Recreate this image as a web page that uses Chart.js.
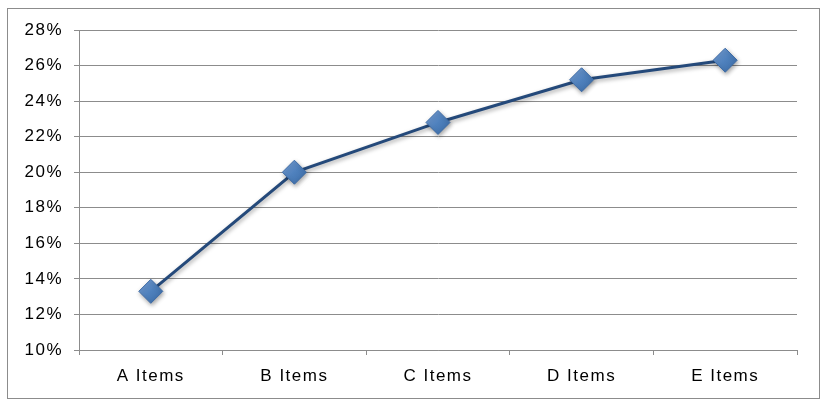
<!DOCTYPE html>
<html>
<head>
<meta charset="utf-8">
<script src="https://cdn.jsdelivr.net/npm/chart.js@4/dist/chart.umd.min.js"></script>
<style>
html,body{margin:0;padding:0;background:#fff;}
#wrap{position:relative;width:829px;height:408px;}
</style>
</head>
<body>
<div id="wrap"><canvas id="c" width="829" height="408"></canvas></div>
<script>
const categories = ["A Items", "B Items", "C Items", "D Items", "E Items"];
const values = [13.3, 20.0, 22.8, 25.2, 26.3];
const yMin = 10;
const yMax = 28;
const yStep = 2;

const borderPlugin = {
  id: 'outerBorder',
  beforeDraw(chart) {
    const ctx = chart.ctx;
    ctx.save();
    ctx.fillStyle = '#ffffff';
    ctx.fillRect(0, 0, chart.width, chart.height);
    ctx.strokeStyle = '#8c8c8c';
    ctx.lineWidth = 1;
    ctx.strokeRect(7.5, 8.5, 812, 390);
    ctx.restore();
  }
};

const spacingPlugin = {
  id: 'letterSpacing',
  beforeInit(chart) { chart.ctx.letterSpacing = '1.5px'; },
  beforeLayout(chart) { chart.ctx.letterSpacing = '1.5px'; },
  beforeDraw(chart) { chart.ctx.letterSpacing = '1.5px'; }
};

const shadowPlugin = {
  id: 'markerShadow',
  beforeDatasetDraw(chart) {
    const ctx = chart.ctx;
    ctx.save();
    ctx.shadowColor = 'rgba(0,0,0,0.35)';
    ctx.shadowBlur = 4;
    ctx.shadowOffsetX = 1;
    ctx.shadowOffsetY = 2;
  },
  afterDatasetDraw(chart) {
    chart.ctx.restore();
  }
};

Chart.defaults.font.family = "'Liberation Sans', Arial, sans-serif";
Chart.defaults.font.size = 17;
Chart.defaults.color = '#000000';

const ctx = document.getElementById('c').getContext('2d');

function markerFill(context) {
  const chart = context.chart;
  const el = context.element;
  if (!el || el.x === undefined) return '#4F81BD';
  const g = chart.ctx.createLinearGradient(el.x - 12, el.y - 12, el.x + 12, el.y + 12);
  g.addColorStop(0, '#7ea6dc');
  g.addColorStop(0.5, '#4f81bd');
  g.addColorStop(1, '#3a6aa5');
  return g;
}

new Chart(ctx, {
  type: 'line',
  data: {
    labels: categories,
    datasets: [{
      data: values,
      borderColor: '#24497a',
      borderWidth: 3,
      pointStyle: 'rectRot',
      pointRadius: 12,
      pointHoverRadius: 12,
      pointBackgroundColor: markerFill,
      pointBorderColor: '#3d6ba6',
      pointBorderWidth: 1,
      tension: 0,
      fill: false
    }]
  },
  options: {
    responsive: false,
    animation: false,
    devicePixelRatio: 1,
    layout: { padding: { left: 7, right: 32, top: 30, bottom: 0 } },
    plugins: {
      legend: { display: false },
      tooltip: { enabled: false }
    },
    scales: {
      x: {
        type: 'category',
        offset: true,
        grid: {
          offset: true,
          drawOnChartArea: false,
          drawTicks: true,
          tickLength: 5,
          color: '#8c8c8c'
        },
        border: { display: true, color: '#8c8c8c', width: 1 },
        ticks: { padding: 11, color: '#000', font: { size: 17 } },
        afterFit(scale) { scale.height = 58; }
      },
      y: {
        min: yMin,
        max: yMax,
        ticks: {
          stepSize: yStep,
          padding: 11,
          color: '#000',
          font: { size: 17 },
          callback: (v) => v + '%'
        },
        grid: {
          color: '#8c8c8c',
          lineWidth: 1,
          drawTicks: true,
          tickLength: 5
        },
        border: { display: true, color: '#8c8c8c', width: 1 },
        afterFit(scale) { scale.width = 72; }
      }
    }
  },
  plugins: [borderPlugin, spacingPlugin, shadowPlugin]
});
</script>
</body>
</html>
